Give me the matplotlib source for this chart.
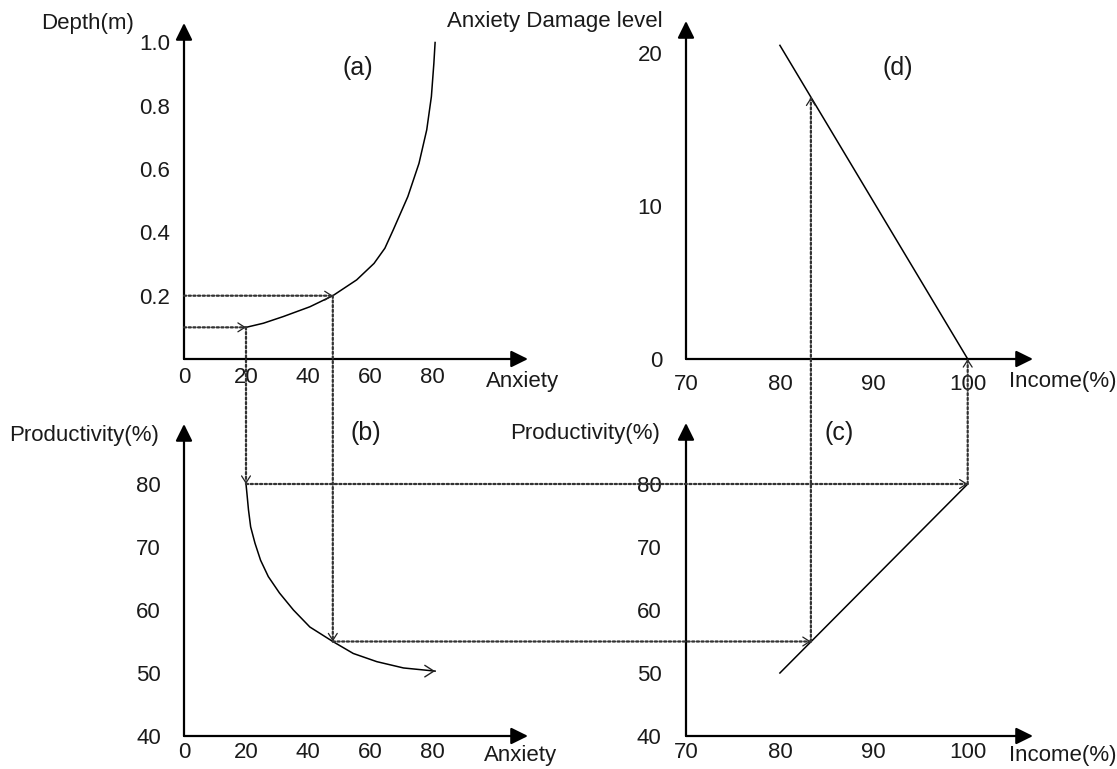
import matplotlib
matplotlib.use('Agg')
import matplotlib.pyplot as plt
from matplotlib.patches import ConnectionPatch

plt.rcParams['font.family'] = ['Liberation Sans', 'DejaVu Sans']

# ---------------- data ----------------
# (a) Depth vs Anxiety
anxiety_a = [20, 25.6, 32, 40.6, 48, 55.7, 61.3, 64.8, 67.5, 72.2, 75.8, 78.3, 79.8, 80.6, 81.0]
depth_a = [0.1, 0.113, 0.134, 0.165, 0.2, 0.25, 0.302, 0.35, 0.408, 0.513, 0.618, 0.724, 0.829, 0.934, 1.0]
# (b) Productivity vs Anxiety
anxiety_b = [20, 20.3, 20.8, 21.5, 22.9, 24.7, 27.2, 30.8, 35.3, 40.6, 48, 54.6, 62.2, 70.8, 81]
productivity_b = [80, 78.5, 75.9, 73.2, 70.6, 67.9, 65.3, 62.7, 60, 57.3, 55, 53.1, 51.8, 50.8, 50.3]
# (c) Productivity vs Income
income_c = [80, 100]
productivity_c = [50, 80]
# (d) Anxiety damage level vs Income
income_d = [80, 100]
damage_d = [20.5, 0]

# scenario paths (two cases)
path_anxiety = [20, 48]
path_depth = [0.1, 0.2]
path_productivity = [80, 55]
path_income = [100, 83.3]
path_damage = [0, 17.1]

# ticks
a_xticks = [0, 20, 40, 60, 80]
a_yticks = [0.2, 0.4, 0.6, 0.8, 1.0]
a_yticklabels = ['0.2', '0.4', '0.6', '0.8', '1.0']
b_xticks = [0, 20, 40, 60, 80]
b_yticks = [40, 50, 60, 70, 80]
c_xticks = [70, 80, 90, 100]
c_yticks = [40, 50, 60, 70, 80]
d_xticks = [70, 80, 90, 100]
d_yticks = [0, 10, 20]

# ---------------- figure ----------------
W, H = 1117, 769
fig = plt.figure(figsize=(W / 100, H / 100), dpi=100)
TXT = '#1a1a1a'
FS = 16
DOT = '#333333'
DOTSTYLE = (0, (1.0, 1.1))


def make_axes(ox, oy, tipx, tipy, x0, xs, y0, ys, xpad, ypad):
    w = tipx - ox
    h = oy - tipy
    ax = fig.add_axes([ox / W, 1 - oy / H, w / W, h / H])
    ax.set_xlim(x0, x0 + w / xs)
    ax.set_ylim(y0, y0 + h / ys)
    for s in ax.spines.values():
        s.set_visible(False)
    ax.patch.set_alpha(0)
    ap = dict(arrowstyle='-|>,head_length=0.85,head_width=0.42', lw=1.6,
              color='black', shrinkA=0, shrinkB=0, mutation_scale=12)
    ax.annotate('', xy=(1, 0), xytext=(0, 0), xycoords='axes fraction',
                arrowprops=ap, annotation_clip=False)
    ax.annotate('', xy=(0, 1), xytext=(0, 0), xycoords='axes fraction',
                arrowprops=ap, annotation_clip=False)
    ax.tick_params(axis='x', length=0, labelsize=FS, pad=xpad, colors=TXT)
    ax.tick_params(axis='y', length=0, labelsize=FS, pad=ypad, colors=TXT)
    return ax


ax_a = make_axes(184, 359, 528, 23, 0, 3.1, 0, 316.5, 6, 10)
ax_b = make_axes(184, 736, 528, 424, 0, 3.1, 40, 6.3, 4.5, 16.5)
ax_c = make_axes(686, 736, 1033, 423, 70, 9.39, 40, 6.3, 4.5, 17.5)
ax_d = make_axes(686, 359, 1033, 21, 70, 9.39, 0, 15.3, 10.5, 17)

ax_a.set_xticks(a_xticks)
ax_a.set_yticks(a_yticks)
ax_a.set_yticklabels(a_yticklabels)
ax_b.set_xticks(b_xticks)
ax_b.set_yticks(b_yticks)
ax_c.set_xticks(c_xticks)
ax_c.set_yticks(c_yticks)
ax_d.set_xticks(d_xticks)
ax_d.set_yticks(d_yticks)

# curves
line_kw = dict(color='black', lw=1.1, clip_on=False, solid_joinstyle='round')
ax_a.plot(anxiety_a, depth_a, **line_kw)
ax_b.plot(anxiety_b, productivity_b, **line_kw)
ax_c.plot(income_c, productivity_c, **line_kw)
ax_d.plot(income_d, damage_d, **line_kw)


def head(ax, x, y, dx, dy, size=10, lw=0.9):
    ax.annotate('', xy=(x, y), xytext=(dx, dy), textcoords='offset points',
                arrowprops=dict(arrowstyle='->,head_length=0.5,head_width=0.32',
                                lw=lw, color='#222222', shrinkA=0, shrinkB=0,
                                mutation_scale=size),
                annotation_clip=False)


head(ax_b, anxiety_b[-1], productivity_b[-1], -2, 0, size=13, lw=1.0)


def connect(axA, pA, axB, pB):
    con = ConnectionPatch(xyA=pA, coordsA=axA.transData, xyB=pB, coordsB=axB.transData,
                          arrowstyle='-', linestyle=DOTSTYLE, lw=1.6, color=DOT)
    fig.add_artist(con)


for i in range(len(path_anxiety)):
    an, de, pr, inc, dm = (path_anxiety[i], path_depth[i], path_productivity[i],
                           path_income[i], path_damage[i])
    # depth axis -> curve (a)
    connect(ax_a, (0, de), ax_a, (an, de))
    head(ax_a, an, de, -2, 0)
    # (a) -> (b)
    connect(ax_a, (an, de), ax_b, (an, pr))
    head(ax_b, an, pr, 0, 2)
    # (b) -> (c)
    connect(ax_b, (an, pr), ax_c, (inc, pr))
    head(ax_c, inc, pr, -2, 0)
    # (c) -> (d)
    connect(ax_c, (inc, pr), ax_d, (inc, dm))
    head(ax_d, inc, dm, 0, -2)


def ftext(x, y, s, ha='center', size=FS):
    fig.text(x / W, 1 - y / H, s, ha=ha, va='center', fontsize=size, color=TXT)


ftext(88, 23, 'Depth(m)')
ftext(663, 21, 'Anxiety Damage level', ha='right')
ftext(523, 382, 'Anxiety')
ftext(521, 755, 'Anxiety')
ftext(1063, 381, 'Income(%)')
ftext(1063, 755, 'Income(%)')
ftext(84, 435, 'Productivity(%)')
ftext(585, 433, 'Productivity(%)')

ftext(358, 68, '(a)', size=18)
ftext(898, 68, '(d)', size=18)
ftext(366, 433, '(b)', size=18)
ftext(839, 433, '(c)', size=18)

fig.savefig('out.png', dpi=100)
